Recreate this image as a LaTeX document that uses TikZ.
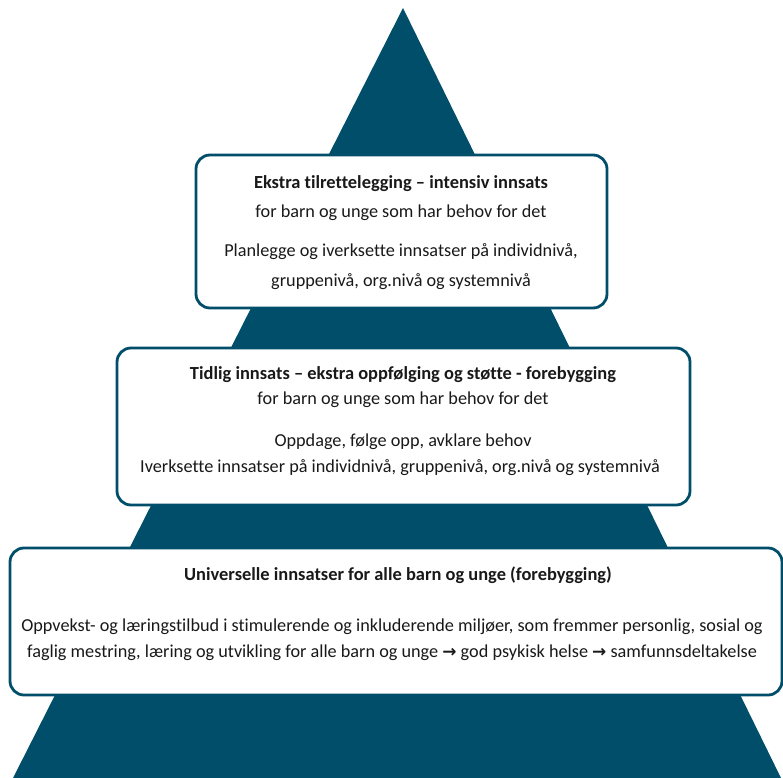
\documentclass[tikz,border=0pt]{standalone}
\usepackage{fontspec}
\setmainfont{Carlito}[Ligatures=NoCommon]
\newfontfamily\arrowfont{DejaVu Sans}
\newcommand{\then}{{\arrowfont\bfseries\fontsize{17}{17}\selectfont →}}
\usetikzlibrary{positioning}
\definecolor{pyramid}{RGB}{0,78,106}
\definecolor{ink}{RGB}{25,25,25}

\begin{document}
\begin{tikzpicture}[x=1bp, y=-1bp, node distance=2bp]
	\tikzstyle{level}=[draw=pyramid, line width=2.8bp, fill=white, rounded corners=14bp, inner sep=0pt]
	\tikzstyle{title}=[font=\bfseries\fontsize{18.5}{20}\selectfont, text=ink, inner sep=0pt, anchor=base]
	\tikzstyle{body}=[font=\fontsize{18.3}{20}\selectfont, text=ink, inner sep=0pt, anchor=base]
	\useasboundingbox (0,0) rectangle (783,778);
	\coordinate (apex) at (403,8);
	\coordinate (bl) at (13,778);
	\coordinate (br) at (781,778);
	\fill[pyramid] (apex) -- (br) -- (bl) -- cycle;
	% levels
	\node[level, minimum width=411bp, minimum height=153bp] (A) at (401.5,231.5) {};
	\node[level, minimum width=573bp, minimum height=157bp] (B) at (403.5,426.5) {};
	\node[level, minimum width=772bp, minimum height=147bp] (C) at (396,621.5) {};
	% texts
	\node[title] (A1) at (401,188) {Ekstra tilrettelegging -- intensiv innsats};
	\node[body] (A2) at (401,217) {for barn og unge som har behov for det};
	\node[body] (A3) at (401,256) {Planlegge og iverksette innsatser på individnivå,};
	\node[body] (A4) at (401,286) {gruppenivå, org.nivå og systemnivå};
	\node[title] (B1) at (403,379) {Tidlig innsats -- ekstra oppfølging og støtte - forebygging};
	\node[body] (B2) at (403,404) {for barn og unge som har behov for det};
	\node[body] (B3) at (403,446) {Oppdage, følge opp, avklare behov};
	\node[body] (B4) at (400,472) {Iverksette innsatser på individnivå, gruppenivå, org.nivå og systemnivå};
	\node[title] (C1) at (398,580) {Universelle innsatser for alle barn og unge (forebygging)};
	\node[body] (C2) at (392,631) {Oppvekst- og læringstilbud i stimulerende og inkluderende miljøer, som fremmer personlig, sosial og};
	\node[body] (C3) at (392,657) {faglig mestring, læring og utvikling for alle barn og unge \then{} god psykisk helse \then{} samfunnsdeltakelse};
\end{tikzpicture}
\end{document}
